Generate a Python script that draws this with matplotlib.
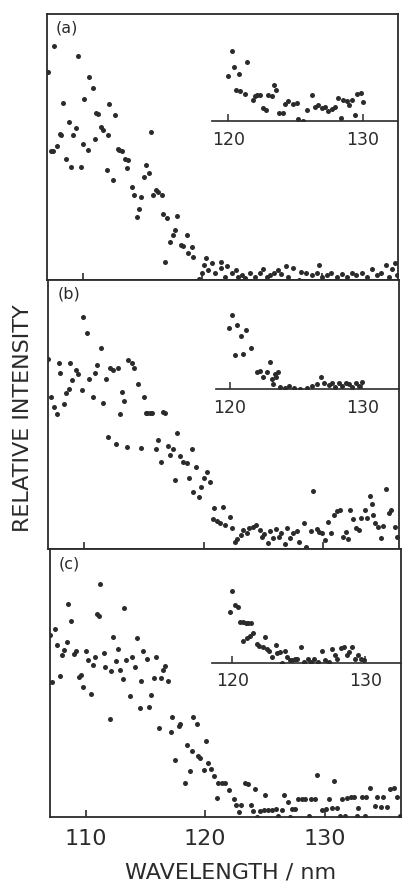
import matplotlib
matplotlib.use("Agg")
import matplotlib.pyplot as plt

# ---- panel (a) ----
wl_a = [107.1, 107.6, 107.3, 107.5, 107.8, 108.3, 108.1, 108.2, 108.8, 108.6, 109.0, 109.2, 109.4, 109.6,
        109.8, 110.0, 110.1, 110.4, 110.5, 110.8, 111.0, 111.1, 111.3, 111.5, 111.7, 112.0, 112.1, 112.2,
        112.5, 112.7, 112.9, 113.0, 113.3, 113.5, 113.8, 113.7, 114.1, 114.3, 114.5, 114.7, 114.9, 115.1,
        115.3, 115.5, 115.7, 115.9, 116.1, 116.3, 116.6, 116.7, 117.0, 116.9, 117.3, 117.5, 117.7, 117.9,
        118.2, 118.4, 118.7, 119.1, 118.8, 119.2, 119.7, 120.0, 120.1, 120.3, 120.5, 120.8, 121.1, 121.6,
        121.6, 121.9, 122.1, 122.5, 122.8, 123.0, 123.3, 123.6, 124.0, 124.4, 124.8, 125.1, 125.4, 125.7,
        126.0, 126.3, 126.6, 127.0, 127.2, 127.6, 128.1, 128.3, 128.7, 129.2, 129.6, 129.8, 130.0, 130.4,
        130.8, 131.3, 131.7, 132.1, 132.5, 132.9, 133.4, 133.8, 134.2, 134.6, 135.0, 135.4, 135.6, 135.9,
        136.1, 136.3]
int_a = [78.3, 88.0, 48.5, 48.5, 50.4, 66.7, 55.1, 54.5, 59.5, 45.4, 42.6, 54.5, 57.0, 84.2,
         42.6, 51.1, 67.9, 48.9, 76.2, 72.3, 52.9, 62.9, 62.4, 57.6, 56.6, 41.4, 54.5, 66.2,
         37.6, 62.0, 49.1, 48.9, 48.6, 45.4, 45.1, 42.0, 35.1, 32.0, 23.6, 26.6, 31.1, 38.8,
         43.2, 40.1, 55.5, 32.0, 33.8, 33.2, 32.0, 24.8, 23.2, 6.9, 14.4, 16.9, 18.8, 24.1,
         13.2, 12.8, 16.9, 12.5, 10.0, 8.8, 0.3, 2.8, 5.6, 8.1, 3.8, 6.3, 2.5, 6.9,
         4.4, 1.3, 5.3, 2.5, 3.8, 1.3, 1.9, 0.6, 2.5, 1.3, 2.5, 4.0, 1.3, 1.9,
         2.5, 3.8, 2.1, 5.3, 1.3, 4.4, 0.0, 3.1, 2.5, 1.9, 2.5, 5.6, 1.3, 1.9,
         2.5, 1.3, 2.3, 1.3, 2.5, 1.9, 2.5, 1.3, 4.0, 1.9, 2.5, 5.6, 1.3, 4.0,
         6.3, 1.9]
wl_a_in = [120.0, 120.27, 120.45, 120.79, 121.36, 120.57, 120.87, 121.24, 121.81, 121.99, 122.16, 122.36,
           122.61, 122.8, 122.98, 123.23, 123.4, 123.55, 123.8, 124.05, 124.22, 124.47, 124.84, 125.09,
           125.21, 125.58, 125.83, 126.2, 126.45, 126.7, 126.95, 127.2, 127.44, 127.69, 127.94, 128.19,
           128.37, 128.56, 128.81, 129.0, 129.18, 129.43, 129.6, 129.85, 130.0]
int_a_in = [55.4, 86.4, 66.9, 57.9, 73.1, 38.8, 37.2, 33.9, 26.4, 30.6, 32.6, 32.6,
            16.5, 13.2, 31.8, 30.6, 44.2, 38.8, 9.9, 9.9, 20.7, 24.8, 21.5, 22.3,
            2.9, 0.0, 14.0, 31.8, 17.4, 19.4, 16.5, 17.4, 12.4, 15.3, 17.4, 28.9,
            4.1, 26.4, 24.8, 19.4, 25.6, 7.0, 33.9, 34.7, 23.6]

# ---- panel (b) ----
wl_b = [107.0, 107.2, 107.5, 107.7, 107.85, 108.0, 108.3, 108.5, 108.7, 108.8, 109.0, 109.3, 109.5, 109.8,
        109.9, 110.2, 110.4, 110.7, 110.9, 111.1, 111.4, 111.6, 111.8, 112.0, 112.2, 112.4, 112.7, 112.8,
        113.0, 113.2, 113.3, 113.6, 113.7, 114.0, 114.2, 114.5, 114.8, 115.0, 115.2, 115.3, 115.5, 115.7,
        116.0, 116.2, 116.4, 116.6, 116.8, 117.0, 117.2, 117.4, 117.6, 117.8, 118.0, 118.3, 118.6, 118.8,
        119.0, 119.1, 119.4, 119.6, 119.8, 120.0, 120.3, 120.5, 120.8, 120.9, 121.1, 121.4, 121.6, 121.8,
        122.2, 122.4, 122.6, 122.8, 123.1, 123.3, 123.6, 123.8, 124.1, 124.4, 124.7, 124.9, 125.1, 125.4,
        125.6, 125.8, 126.1, 126.3, 126.5, 126.8, 127.0, 127.2, 127.5, 127.8, 128.0, 128.4, 128.6, 129.0,
        129.2, 129.5, 129.7, 129.9, 130.2, 130.4, 130.7, 130.9, 131.2, 131.4, 131.7, 131.9, 132.1, 132.3,
        132.5, 132.8, 133.0, 133.2, 133.5, 133.7, 133.9, 134.1, 134.2, 134.4, 134.6, 134.9, 135.0, 135.3,
        135.5, 135.7, 136.0, 136.2]
int_b = [70.5, 56.4, 53.0, 50.2, 69.3, 65.6, 54.0, 57.9, 59.4, 69.1, 62.9, 66.6, 65.1, 59.2,
         86.4, 80.4, 63.1, 56.4, 65.3, 68.4, 74.6, 54.5, 63.1, 41.6, 67.2, 66.6, 39.1, 67.2,
         50.2, 58.5, 55.2, 37.9, 70.3, 69.3, 67.2, 61.4, 37.5, 56.7, 50.5, 50.7, 50.5, 50.5,
         37.1, 40.6, 32.5, 51.1, 50.7, 38.4, 35.0, 37.1, 25.7, 43.3, 34.7, 32.5, 31.9, 26.4,
         37.1, 21.4, 30.7, 19.6, 23.3, 26.4, 28.8, 25.1, 11.1, 15.2, 10.6, 9.9, 15.8, 9.0,
         12.1, 7.8, 2.8, 3.7, 5.3, 7.2, 5.9, 7.8, 8.4, 9.0, 7.2, 4.5, 5.7, 2.2,
         6.9, 4.1, 7.4, 4.7, 5.9, 2.0, 7.8, 4.1, 5.9, 6.9, 2.8, 9.9, 1.0, 6.9,
         21.8, 7.4, 6.6, 5.9, 3.5, 10.3, 5.9, 12.7, 14.4, 14.6, 4.7, 6.6, 3.7, 14.6,
         11.1, 7.8, 7.2, 11.5, 14.6, 11.5, 19.8, 16.8, 12.7, 9.9, 8.2, 4.1, 8.7, 22.3,
         13.6, 14.6, 8.4, 4.5]
wl_b_in = [119.92, 120.13, 120.56, 120.81, 121.19, 120.38, 121.01, 121.57, 122.03, 122.28, 122.46, 122.78,
           123.04, 123.16, 123.42, 123.59, 123.49, 123.24, 123.8, 124.18, 124.43, 124.81, 125.32, 125.82,
           126.2, 126.58, 126.89, 127.14, 127.47, 127.72, 127.97, 128.23, 128.48, 128.73, 128.99, 129.24,
           129.49, 129.75, 129.95]
int_b_in = [75.6, 92.1, 79.8, 66.1, 73.6, 42.6, 43.8, 50.8, 21.9, 23.1, 14.9, 21.9,
            34.3, 12.4, 19.0, 21.9, 14.9, 6.6, 2.5, 1.2, 4.1, 1.2, 0.0, 1.2,
            4.1, 6.6, 15.7, 8.3, 5.4, 8.3, 3.3, 7.4, 4.1, 8.3, 6.6, 3.3,
            8.3, 4.1, 9.5]

# ---- panel (c) ----
wl_c = [107.0, 107.4, 107.2, 107.6, 107.8, 108.0, 108.2, 108.4, 108.5, 108.8, 109.0, 109.2, 109.4, 109.6,
        109.8, 110.0, 110.2, 110.4, 110.6, 110.8, 110.9, 111.1, 111.2, 111.5, 111.6, 112.0, 112.1, 112.3,
        112.5, 112.7, 112.9, 113.1, 113.2, 113.4, 113.7, 113.9, 114.1, 114.3, 114.5, 114.6, 114.8, 115.1,
        115.3, 115.5, 115.7, 115.9, 116.1, 116.3, 116.5, 116.6, 116.9, 117.1, 117.2, 117.5, 117.8, 117.9,
        118.3, 118.5, 118.7, 118.9, 119.0, 119.3, 119.4, 119.6, 119.9, 120.1, 120.2, 120.5, 120.7, 121.0,
        121.1, 121.4, 121.7, 122.0, 122.4, 122.6, 122.8, 123.0, 123.3, 123.6, 123.8, 124.0, 124.2, 124.3,
        124.6, 124.9, 125.0, 125.3, 125.6, 125.9, 126.1, 126.4, 126.6, 126.9, 127.1, 127.3, 127.5, 127.8,
        128.1, 128.4, 128.7, 128.9, 129.2, 129.4, 129.8, 130.1, 130.4, 130.6, 130.8, 131.0, 131.3, 131.5,
        131.7, 131.9, 132.2, 132.5, 132.7, 132.8, 133.1, 133.4, 133.5, 133.8, 134.2, 134.4, 134.7, 134.9,
        135.2, 135.5, 135.8, 136.1, 136.3]
int_c = [68.0, 70.1, 50.6, 64.2, 52.7, 60.5, 62.4, 65.5, 79.5, 73.3, 60.9, 62.1, 52.4, 53.0,
         48.4, 62.1, 58.6, 46.0, 56.8, 59.9, 76.0, 75.0, 87.0, 61.4, 55.9, 36.5, 54.7, 67.3,
         58.4, 62.6, 54.9, 51.4, 77.9, 58.6, 45.2, 59.6, 55.9, 66.7, 40.6, 50.9, 62.1, 58.9,
         41.2, 45.6, 51.8, 59.9, 33.2, 51.8, 54.9, 56.4, 50.9, 31.6, 37.5, 21.4, 33.8, 34.8,
         12.7, 27.0, 17.0, 24.8, 37.3, 34.8, 22.9, 22.0, 17.4, 28.2, 20.1, 17.9, 15.2, 7.1,
         12.7, 12.7, 12.7, 9.9, 6.7, 4.6, 1.7, 4.6, 12.7, 12.4, 4.6, 2.1, 10.4, 0.0,
         2.1, 2.5, 8.0, 2.5, 2.7, 3.0, 0.2, 2.5, 8.3, 5.5, 0.0, 3.0, 3.0, 6.5,
         6.5, 6.5, 0.2, 6.5, 6.5, 15.8, 2.5, 3.0, 6.5, 3.4, 13.3, 3.4, 0.5, 6.5,
         0.5, 7.1, 7.5, 7.5, 0.5, 3.4, 7.5, 0.5, 7.5, 10.8, 4.0, 7.5, 3.7, 7.5,
         3.7, 10.4, 10.8, 7.5, 0.5]
wl_c_in = [119.83, 120.0, 120.2, 120.4, 120.57, 120.77, 121.02, 121.19, 121.36, 120.82, 121.07, 121.32,
           121.51, 121.81, 122.01, 122.26, 122.43, 122.56, 122.75, 123.0, 123.25, 123.37, 123.6, 123.75,
           123.92, 124.09, 124.29, 124.49, 124.67, 124.86, 125.16, 125.41, 125.66, 125.91, 126.15, 126.4,
           126.72, 126.97, 127.27, 127.52, 127.72, 127.89, 128.14, 128.39, 128.64, 128.76, 128.96, 129.21,
           129.45, 129.63, 129.88]
int_c_in = [63.2, 89.3, 71.5, 69.4, 50.8, 50.8, 49.6, 48.8, 49.6, 27.3, 30.2, 33.1,
            36.4, 23.1, 20.7, 19.0, 32.2, 16.5, 14.9, 7.4, 21.9, 12.4, 13.6, 0.0,
            14.9, 7.4, 3.3, 3.3, 4.1, 4.1, 19.0, 1.2, 4.1, 1.2, 4.1, 1.2,
            14.9, 3.3, 1.2, 16.5, 9.5, 4.1, 17.8, 19.0, 9.5, 13.6, 19.0, 4.1,
            9.5, 4.1, 3.3]

labels = ["(a)", "(b)", "(c)"]
main_ticks = [110, 120, 130]
inset_ticks = [120, 130]

INK = "#2b2b2b"
plt.rcParams["font.family"] = "DejaVu Sans"

fig = plt.figure(figsize=(4.03, 8.86), dpi=100)

# [left, bottom, width, height] for main panels and insets
main_pos = [[0.117, 0.684, 0.871, 0.300],
            [0.120, 0.380, 0.871, 0.304],
            [0.124, 0.078, 0.871, 0.302]]
inset_pos = [[0.526, 0.8634, 0.459, 0.0911],
             [0.536, 0.5606, 0.455, 0.0911],
             [0.526, 0.2520, 0.470, 0.0911]]
inset_xlim = [(118.78, 132.56), (118.94, 132.8), (118.46, 132.7)]

series = [(wl_a, int_a, wl_a_in, int_a_in),
          (wl_b, int_b, wl_b_in, int_b_in),
          (wl_c, int_c, wl_c_in, int_c_in)]

for i, (wl, inten, wl_in, int_in) in enumerate(series):
    ax = fig.add_axes(main_pos[i])
    ax.plot(wl, inten, "o", ms=3.6, color=INK, mec="none")
    ax.set_xlim(107.0, 136.4)
    ax.set_ylim(0, 100)
    ax.set_xticks(main_ticks)
    ax.set_yticks([])
    ax.tick_params(axis="x", direction="in", length=5, width=1.2, color=INK,
                   labelsize=16, pad=9, labelcolor=INK, labelbottom=(i == 2))
    for sp in ax.spines.values():
        sp.set_linewidth(1.3)
        sp.set_color(INK)
    ax.text(0.025, 0.975, labels[i], transform=ax.transAxes, ha="left", va="top",
            fontsize=11.5, color=INK)

    axi = fig.add_axes(inset_pos[i])
    axi.patch.set_alpha(0)
    axi.plot(wl_in, int_in, "o", ms=3.6, color=INK, mec="none")
    axi.set_xlim(*inset_xlim[i])
    axi.set_ylim(0, 100)
    axi.set_xticks(inset_ticks)
    axi.set_yticks([])
    for side in ["left", "top", "right"]:
        axi.spines[side].set_visible(False)
    axi.spines["bottom"].set_linewidth(1.2)
    axi.spines["bottom"].set_color(INK)
    axi.tick_params(axis="x", direction="in", length=5, width=1.1, color=INK,
                    labelsize=12.5, pad=7, labelcolor=INK)

fig.text(0.058, 0.528, "RELATIVE INTENSITY", rotation=90, ha="center", va="center",
         fontsize=16, color=INK)
fig.text(0.571, 0.0147, "WAVELENGTH / nm", ha="center", va="center", fontsize=16, color=INK)

fig.savefig("out.png", dpi=100, facecolor="white")
